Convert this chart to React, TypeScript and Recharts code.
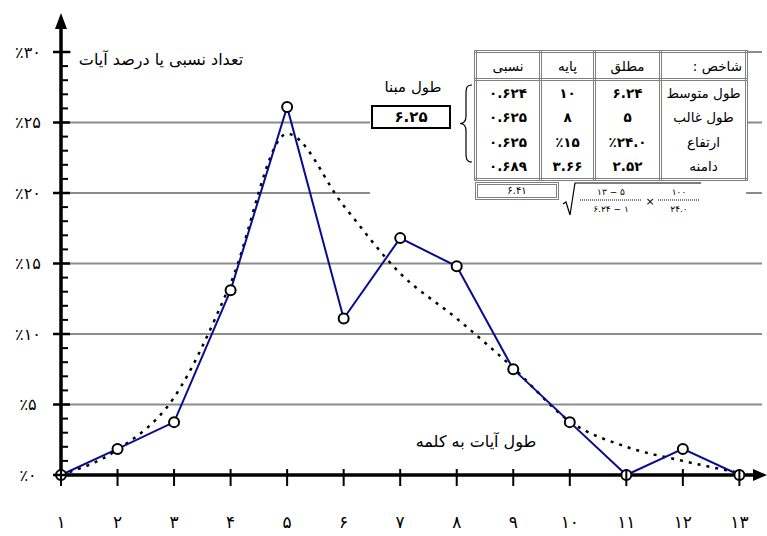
import { LineChart, Line, XAxis, YAxis, ReferenceLine } from "recharts";

// طول آیه (تعداد کلمه) و درصد آیات
const lengths = [1, 2, 3, 4, 5, 6, 7, 8, 9, 10, 11, 12, 13];
const versePercent = [0, 1.85, 3.75, 13.1, 26.1, 11.1, 16.8, 14.8, 7.5, 3.75, 0, 1.85, 0];
const fittedPercent = [0, 1.8, 5.5, 13.6, 24.2, 19.1, 14.3, 11.1, 7.6, 3.8, 2.0, 1.0, 0.15];

const xTickLabels = ["۱", "۲", "۳", "۴", "۵", "۶", "۷", "۸", "۹", "۱۰", "۱۱", "۱۲", "۱۳"];
const yTicks = Array.from({ length: 31 }, (_, i) => i);
const yMajorTicks = [0, 5, 10, 15, 20, 25, 30];
const yTickLabels = ["٪۰", "٪۵", "٪۱۰", "٪۱۵", "٪۲۰", "٪۲۵", "٪۳۰"];
const gridValues = [5, 10, 15, 20, 25, 30];

const yTitle = "تعداد نسبی یا درصد آیات";
const xTitle = "طول آیات به کلمه";

// جدول شاخص‌ها
const tableHeaders = ["شاخص :", "مطلق", "پایه", "نسبی"];
const indexNames = ["طول متوسط", "طول غالب", "ارتفاع", "دامنه"];
const absoluteValues = ["۶.۲۴", "۵", "٪۲۴.۰", "۲.۵۲"];
const baseValues = ["۱۰", "۸", "٪۱۵", "۳.۶۶"];
const relativeValues = ["۰.۶۲۴", "۰.۶۲۵", "۰.۶۲۵", "۰.۶۸۹"];
const baseLengthTitle = "طول مبنا";
const baseLength = "۶.۲۵";
const relativeResult = "۶.۴۱";
const formulaTop = ["۱۳ − ۵", "۱۰۰"];
const formulaBottom = ["۶.۲۴ − ۱", "۲۴.۰"];

const FONT = "'DejaVu Sans', sans-serif";
const TBORDER = "3px double #808080";

const data = lengths.map((len, i) => ({
  len,
  percent: versePercent[i],
  fitted: fittedPercent[i],
}));

function XTick({ x, y, payload }: any) {
  const idx = lengths.indexOf(payload.value);
  return (
    <g>
      <line x1={x} x2={x} y1={y - 6} y2={y + 11} stroke="#000" strokeWidth={2} />
      <text x={x} y={y + 47} textAnchor="middle" dominantBaseline="central" fontSize={17} fontFamily={FONT} fill="#000">
        {xTickLabels[idx]}
      </text>
    </g>
  );
}

function YTick({ x, y, payload }: any) {
  const v = payload.value;
  const mi = yMajorTicks.indexOf(v);
  const major = mi >= 0;
  return (
    <g>
      <line x1={major ? x - 8 : x} x2={x + (major ? 9 : 7)} y1={y} y2={y} stroke="#000" strokeWidth={major ? 2.5 : 2} />
      {major && (
        <text x={x - 33} y={y} textAnchor="middle" dominantBaseline="central" fontSize={16} fontFamily={FONT} fill="#000">
          {yTickLabels[mi]}
        </text>
      )}
    </g>
  );
}

const XAxisArrow = (p: any) => {
  const y = p.y1;
  const x2 = Math.max(p.x1, p.x2);
  return (
    <g>
      <line x1={Math.min(p.x1, p.x2) - 3} x2={x2 - 4} y1={y} y2={y} stroke="#000" strokeWidth={3.5} />
      <polygon points={`${x2 + 5},${y} ${x2 - 9},${y - 6} ${x2 - 9},${y + 6}`} fill="#000" />
    </g>
  );
};

const YAxisArrow = (p: any) => {
  const x = p.x1;
  const top = Math.min(p.y1, p.y2);
  const bottom = Math.max(p.y1, p.y2);
  return (
    <g>
      <line x1={x} x2={x} y1={bottom + 2} y2={top - 30} stroke="#000" strokeWidth={3.5} />
      <polygon points={`${x},${top - 39} ${x - 6},${top - 23} ${x + 6},${top - 23}`} fill="#000" />
    </g>
  );
};

function Annotations() {
  const cell = { padding: 0, textAlign: "center" as const, fontWeight: "bold" as const };
  return (
    <>
      {/* covers the grid under the title strip and the table block */}
      <div style={{ position: "absolute", left: 71, top: 45, width: 300, height: 14, background: "#fff" }} />
      <div style={{ position: "absolute", left: 370, top: 40, width: 376, height: 180, background: "#fff" }} />

      <div style={{ position: "absolute", left: 66, top: 49, width: 190, textAlign: "center", direction: "rtl", fontFamily: FONT, fontSize: 16, lineHeight: "22px", whiteSpace: "nowrap" }}>
        {yTitle}
      </div>
      <div style={{ position: "absolute", left: 400, top: 431, width: 152, textAlign: "center", direction: "rtl", fontFamily: FONT, fontSize: 16, lineHeight: "22px", whiteSpace: "nowrap" }}>
        {xTitle}
      </div>

      <div style={{ position: "absolute", left: 371, top: 77, width: 84, textAlign: "center", direction: "rtl", fontFamily: FONT, fontSize: 15, lineHeight: "20px" }}>
        {baseLengthTitle}
      </div>
      <div style={{ position: "absolute", left: 371, top: 105, width: 76, height: 20, border: "2.5px solid #000", textAlign: "center", fontFamily: FONT, fontSize: 15, fontWeight: "bold", lineHeight: "20px" }}>
        {baseLength}
      </div>

      <svg style={{ position: "absolute", left: 458, top: 84 }} width={16} height={80}>
        <path d="M14,1 C8,1 8,5 8,11 L8,32 C8,37 6,39.5 2,39.5 C6,39.5 8,42 8,47 L8,68 C8,74 8,78 14,78" fill="none" stroke="#000" strokeWidth={1.2} />
      </svg>

      <table style={{ position: "absolute", left: 474, top: 50, width: 271, height: 130, borderCollapse: "collapse", tableLayout: "fixed", direction: "rtl", fontFamily: FONT, fontSize: 13.5, background: "#fff" }}>
        <colgroup>
          <col style={{ width: 86 }} />
          <col style={{ width: 66 }} />
          <col style={{ width: 54 }} />
          <col style={{ width: 65 }} />
        </colgroup>
        <thead>
          <tr style={{ height: 28 }}>
            {tableHeaders.map((h, i) => (
              <th key={h} style={{ border: TBORDER, padding: i === 0 ? "0 3px 0 0" : 0, fontWeight: "normal", textAlign: i === 0 ? "right" : "center" }}>
                {h}
              </th>
            ))}
          </tr>
        </thead>
        <tbody>
          {indexNames.map((name, r) => {
            const last = r === indexNames.length - 1;
            const b = { borderLeft: TBORDER, borderRight: TBORDER, borderBottom: last ? TBORDER : "none" };
            return (
              <tr key={name} style={{ height: 25 }}>
                <td style={{ ...b, padding: 0, textAlign: "center" }}>{name}</td>
                <td style={{ ...b, ...cell }}>{absoluteValues[r]}</td>
                <td style={{ ...b, ...cell }}>{baseValues[r]}</td>
                <td style={{ ...b, ...cell }}>{relativeValues[r]}</td>
              </tr>
            );
          })}
        </tbody>
      </table>

      <div style={{ position: "absolute", left: 475, top: 182, width: 78, height: 12, border: TBORDER, textAlign: "center", fontFamily: FONT, fontSize: 10, lineHeight: "12px" }}>
        {relativeResult}
      </div>

      <svg style={{ position: "absolute", left: 562, top: 181 }} width={142} height={36}>
        <path d="M1,23 L4,21 L8,34 L13,2 L139,2" fill="none" stroke="#000" strokeWidth={1.2} />
        <line x1={18} x2={80} y1={19} y2={19} stroke="#808080" strokeWidth={2} strokeDasharray="1 1" />
        <line x1={96} x2={138} y1={19} y2={19} stroke="#808080" strokeWidth={2} strokeDasharray="1 1" />
        <text x={49} y={11} textAnchor="middle" dominantBaseline="central" fontSize={9} fontFamily={FONT}>{formulaTop[0]}</text>
        <text x={49} y={28} textAnchor="middle" dominantBaseline="central" fontSize={9} fontFamily={FONT}>{formulaBottom[0]}</text>
        <text x={88} y={20} textAnchor="middle" dominantBaseline="central" fontSize={11} fontFamily={FONT}>×</text>
        <text x={117} y={11} textAnchor="middle" dominantBaseline="central" fontSize={9} fontFamily={FONT}>{formulaTop[1]}</text>
        <text x={117} y={28} textAnchor="middle" dominantBaseline="central" fontSize={9} fontFamily={FONT}>{formulaBottom[1]}</text>
      </svg>
    </>
  );
}

export default function App() {
  return (
    <div style={{ position: "absolute", left: 0, top: 0, width: 767, height: 536, background: "#fff" }}>
      <LineChart width={767} height={536} data={data} margin={{ top: 52, right: 5, bottom: 1, left: 1 }}>
        {gridValues.map((v) => (
          <ReferenceLine key={v} y={v} stroke="#8c8c8c" strokeWidth={2} />
        ))}
        <XAxis
          dataKey="len"
          type="number"
          domain={[1, 13.4]}
          ticks={lengths}
          interval={0}
          height={60}
          axisLine={false}
          tickLine={false}
          tickSize={0}
          tickMargin={0}
          tick={<XTick />}
        />
        <YAxis
          type="number"
          domain={[0, 30]}
          ticks={yTicks}
          interval={0}
          width={60}
          axisLine={false}
          tickLine={false}
          tickSize={0}
          tickMargin={0}
          tick={<YTick />}
        />
        <ReferenceLine y={0} shape={XAxisArrow} ifOverflow="visible" />
        <ReferenceLine x={1} shape={YAxisArrow} ifOverflow="visible" />
        <Line
          type="monotone"
          dataKey="fitted"
          stroke="#000"
          strokeWidth={2.5}
          strokeDasharray="3 6"
          dot={false}
          activeDot={false}
          isAnimationActive={false}
        />
        <Line
          type="linear"
          dataKey="percent"
          stroke="#0b0b8f"
          strokeWidth={2}
          dot={{ r: 5, fill: "#fff", stroke: "#000", strokeWidth: 2 }}
          activeDot={false}
          isAnimationActive={false}
        />
      </LineChart>
      <Annotations />
    </div>
  );
}
